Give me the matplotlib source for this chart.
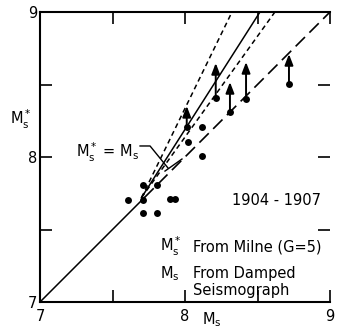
import matplotlib
matplotlib.use('Agg')
import matplotlib.pyplot as plt

# Data
# dots: M_s (damped seismograph) vs M_s* (Milne)
MS      = [7.708, 7.805, 7.605, 7.708, 7.897, 7.931, 7.708, 7.807,
           8.019, 8.115, 8.012, 8.115, 8.212, 8.310, 8.421, 8.717]
MS_STAR = [7.807, 7.807, 7.703, 7.703, 7.708, 7.708, 7.612, 7.612,
           8.101, 8.009, 8.205, 8.205, 8.405, 8.310, 8.400, 8.503]

# arrows: lower-bound estimates pushed upward
ARROW_MS   = [8.012, 8.212, 8.310, 8.421, 8.717]
ARROW_FROM = [8.205, 8.405, 8.310, 8.400, 8.503]
ARROW_TO   = [8.352, 8.648, 8.517, 8.655, 8.710]

# M_s* = M_s line, solid below the cluster, long-dashed above
DIAG_SOLID  = [7.0, 7.72]
DIAG_DASHED = [7.72, 9.0]

# fitted line and its two bounds: common start, end on top edge
FAN_START_X = 7.70
FAN_START_Y = 7.72
FAN_TOP_Y   = 9.0
FAN_TOP_X   = {'lower': 8.324, 'fit': 8.517, 'upper': 8.62}

XTICKS = [7, 7.5, 8, 8.5, 9]
XTICK_LABELS = ['7', '', '8', '', '9']


def main():
    plt.rcParams['font.family'] = 'DejaVu Sans'
    plt.rcParams['mathtext.default'] = 'regular'
    plt.rcParams['lines.scale_dashes'] = False

    fig = plt.figure(figsize=(3.37, 3.32), dpi=100)
    ax = fig.add_axes([40 / 337, 30 / 332, 290 / 337, 290 / 332])
    ax.set_xlim(7, 9)
    ax.set_ylim(7, 9)

    # reference line
    ax.plot(DIAG_SOLID, DIAG_SOLID, color='black', lw=1.1)
    ax.plot(DIAG_DASHED, DIAG_DASHED, color='black', lw=1.2,
            linestyle=(0, (9.5, 4.5)))

    # fan of lines
    for key, style in [('lower', (0, (3.6, 2.6))),
                       ('fit', '-'),
                       ('upper', (0, (3.6, 2.6)))]:
        ax.plot([FAN_START_X, FAN_TOP_X[key]], [FAN_START_Y, FAN_TOP_Y],
                color='black', lw=1.1, linestyle=style)

    # points
    ax.plot(MS, MS_STAR, 'o', color='black', ms=5.0, mew=0)

    # arrows
    for x, y0, y1 in zip(ARROW_MS, ARROW_FROM, ARROW_TO):
        ax.annotate('', xy=(x, y1), xytext=(x, y0),
                    arrowprops=dict(arrowstyle='-|>,head_length=0.65,head_width=0.25',
                                    color='black', lw=1.4,
                                    shrinkA=0, shrinkB=0))

    # label with leader line
    ax.text(7.47, 8.03, r'$M_s^*$ = $M_s$', fontsize=10.5, ha='center', va='center')
    ax.plot([7.690, 7.759, 7.883], [8.076, 8.076, 7.924], color='black', lw=1.0)
    ax.plot([7.862, 7.979], [7.903, 7.986], color='black', lw=1.0)

    ax.text(8.628, 7.697, '1904 - 1907', fontsize=10.5, ha='center', va='center')

    ax.text(7.828, 7.347, r'$M_s^*$', fontsize=10.5, ha='left', va='baseline')
    ax.text(8.055, 7.347, 'From Milne (G=5)', fontsize=10.5, ha='left', va='baseline')
    ax.text(7.828, 7.166, r'$M_s$', fontsize=10.5, ha='left', va='baseline')
    ax.text(8.055, 7.166, 'From Damped', fontsize=10.5, ha='left', va='baseline')
    ax.text(8.055, 7.048, 'Seismograph', fontsize=10.5, ha='left', va='baseline')

    # axis labels
    ax.text(-0.066, 0.628, r'$M_s^*$', fontsize=10.5, ha='center', va='center',
            transform=ax.transAxes)
    ax.text(0.593, -0.062, r'$M_s$', fontsize=10.5, ha='center', va='center',
            transform=ax.transAxes)

    # ticks
    ax.set_xticks(XTICKS)
    ax.set_xticklabels(XTICK_LABELS)
    ax.set_yticks(XTICKS)
    ax.set_yticklabels(XTICK_LABELS)
    ax.tick_params(direction='in', length=8.5, width=1.2, labelsize=10.5,
                   top=True, right=True)
    ax.tick_params(axis='x', pad=5)
    ax.tick_params(axis='y', pad=2)

    for side in ['left', 'bottom', 'top']:
        ax.spines[side].set_linewidth(1.5)
    ax.spines['right'].set_visible(False)

    fig.savefig('out.png', dpi=100)


if __name__ == '__main__':
    main()
